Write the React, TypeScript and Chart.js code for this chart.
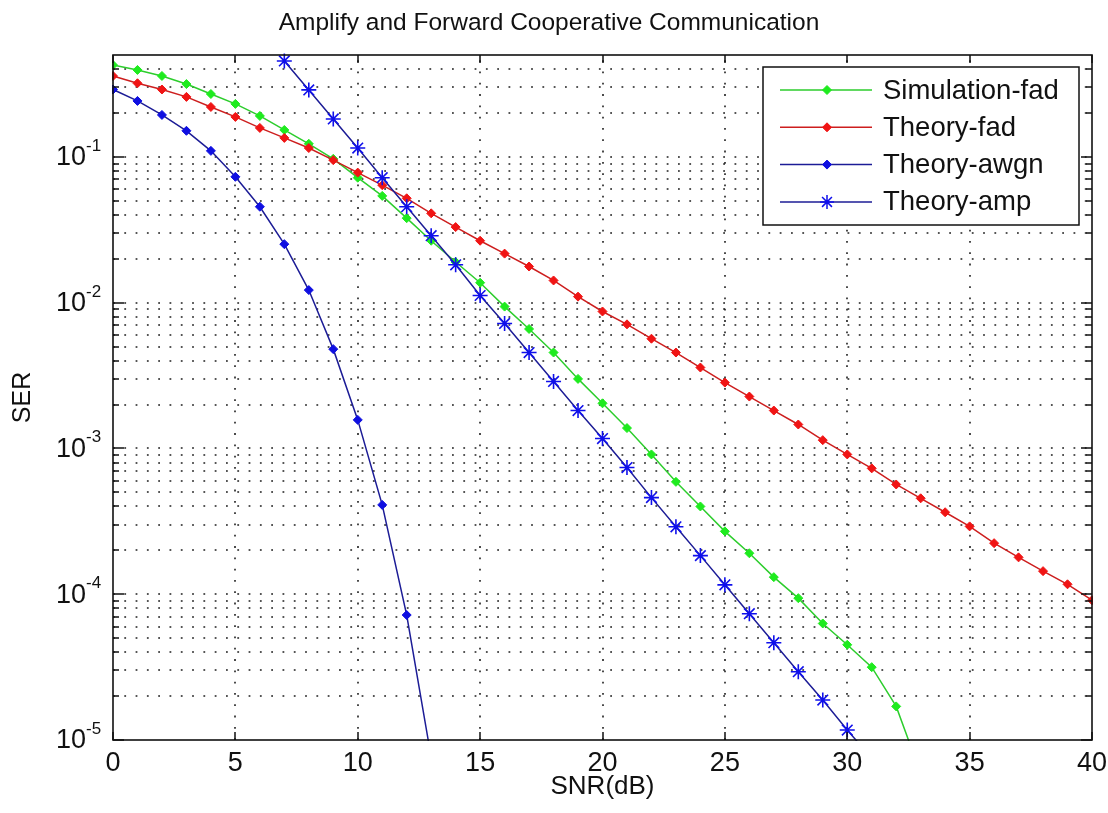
import React, { useEffect, useRef } from 'react';
import { Chart, registerables } from 'chart.js';

Chart.register(...registerables);

const FONT = '"Liberation Sans", Arial, Helvetica, sans-serif';

const chartTitle = 'Amplify and Forward Cooperative Communication';
const xAxisTitle = 'SNR(dB)';
const yAxisTitle = 'SER';

const snrDb = [0, 1, 2, 3, 4, 5, 6, 7, 8, 9, 10, 11, 12, 13, 14, 15, 16, 17, 18, 19, 20, 21, 22, 23, 24, 25, 26, 27, 28, 29, 30, 31, 32, 33, 34, 35, 36, 37, 38, 39, 40];

const simulationFad = [0.427, 0.395, 0.359, 0.316, 0.27, 0.231, 0.191, 0.153, 0.123, 0.097, 0.072, 0.054, 0.038, 0.0266, 0.019, 0.0137, 0.0094, 0.0066, 0.00455, 0.003, 0.00204, 0.00138, 0.00091, 0.00059, 0.0004, 0.00027, 0.000191, 0.000131, 9.4e-5, 6.3e-5, 4.5e-5, 3.16e-5, 1.7e-5, 5.9e-6, null, null, null, null, null, null, null];

const theoryFad = [0.359, 0.32, 0.29, 0.258, 0.22, 0.188, 0.158, 0.135, 0.115, 0.095, 0.078, 0.064, 0.052, 0.041, 0.033, 0.0266, 0.0217, 0.0177, 0.0142, 0.011, 0.0087, 0.0071, 0.00566, 0.00455, 0.00359, 0.00283, 0.00227, 0.00182, 0.00146, 0.00114, 0.00091, 0.00073, 0.000566, 0.000455, 0.000365, 0.000292, 0.000224, 0.000179, 0.000144, 0.000117, 9.1e-5];

const theoryAwgn = [0.29, 0.242, 0.194, 0.151, 0.11, 0.073, 0.0455, 0.0252, 0.0122, 0.0048, 0.00157, 0.00041, 7.2e-5, 7.6e-6, null, null, null, null, null, null, null, null, null, null, null, null, null, null, null, null, null, null, null, null, null, null, null, null, null, null, null];

const theoryAmp = [null, null, null, null, null, null, null, 0.455, 0.288, 0.182, 0.115, 0.072, 0.0455, 0.0288, 0.0182, 0.0112, 0.0072, 0.00455, 0.00288, 0.00182, 0.00117, 0.00074, 0.00046, 0.00029, 0.000184, 0.000116, 7.35e-5, 4.65e-5, 2.94e-5, 1.88e-5, 1.17e-5, 7.5e-6, null, null, null, null, null, null, null, null, null];

const seriesNames = ['Simulation-fad', 'Theory-fad', 'Theory-awgn', 'Theory-amp'];

const xTickValues = [0, 5, 10, 15, 20, 25, 30, 35, 40];
const yDecadeTicks = [1e-5, 1e-4, 1e-3, 1e-2, 1e-1];
const yDecadeExponents = ['-5', '-4', '-3', '-2', '-1'];
const yMinorMantissas = [2, 3, 4, 5, 6, 7, 8, 9];

const Y_MIN = 1e-5;
const Y_MAX = 0.5;

const styles = [
  { line: 'rgb(45,205,45)', marker: 'rgb(30,235,30)', shape: 'diamond' },
  { line: 'rgb(205,30,30)', marker: 'rgb(240,20,20)', shape: 'diamond' },
  { line: 'rgb(28,28,150)', marker: 'rgb(15,15,225)', shape: 'diamond' },
  { line: 'rgb(28,28,150)', marker: 'rgb(15,15,235)', shape: 'star' },
];

function minorValues(): number[] {
  const out: number[] = [];
  for (const d of yDecadeTicks) {
    for (const m of yMinorMantissas) {
      const v = m * d;
      if (v > Y_MIN && v < Y_MAX) out.push(v);
    }
  }
  return out;
}

function drawDiamond(ctx: CanvasRenderingContext2D, x: number, y: number, r: number, color: string) {
  ctx.beginPath();
  ctx.moveTo(x, y - r);
  ctx.lineTo(x + r, y);
  ctx.lineTo(x, y + r);
  ctx.lineTo(x - r, y);
  ctx.closePath();
  ctx.fillStyle = color;
  ctx.strokeStyle = color;
  ctx.lineWidth = 1;
  ctx.fill();
  ctx.stroke();
}

function drawStar(ctx: CanvasRenderingContext2D, x: number, y: number, r: number, color: string) {
  ctx.beginPath();
  ctx.moveTo(x - r, y); ctx.lineTo(x + r, y);
  ctx.moveTo(x, y - r); ctx.lineTo(x, y + r);
  const d = r * Math.SQRT1_2;
  ctx.moveTo(x - d, y - d); ctx.lineTo(x + d, y + d);
  ctx.moveTo(x - d, y + d); ctx.lineTo(x + d, y - d);
  ctx.strokeStyle = color;
  ctx.lineWidth = 1.5;
  ctx.stroke();
}

const matlabPlugin = {
  id: 'matlabAxes',
  beforeDatasetsDraw(chart: any) {
    const { ctx, chartArea: a, scales } = chart;
    const xs = scales.x;
    const ys = scales.y;
    ctx.save();
    ctx.strokeStyle = '#1e1e1e';
    ctx.lineWidth = 1.6;
    ctx.setLineDash([1.8, 9.5]);
    for (const v of xTickValues) {
      if (v <= xs.min || v >= xs.max) continue;
      const px = Math.round(xs.getPixelForValue(v));
      ctx.beginPath();
      ctx.moveTo(px, a.bottom);
      ctx.lineTo(px, a.top);
      ctx.stroke();
    }
    const gridVals = [...yDecadeTicks.filter((v) => v > Y_MIN && v < Y_MAX), ...minorValues()];
    for (const v of gridVals) {
      const py = Math.round(ys.getPixelForValue(v));
      ctx.beginPath();
      ctx.moveTo(a.left, py);
      ctx.lineTo(a.right, py);
      ctx.stroke();
    }
    ctx.restore();
  },
  afterDatasetsDraw(chart: any) {
    const { ctx, chartArea: a, scales } = chart;
    const xs = scales.x;
    const ys = scales.y;
    ctx.save();
    ctx.setLineDash([]);
    ctx.strokeStyle = '#111';
    ctx.lineWidth = 1.5;
    // x ticks (inward, bottom and top)
    for (const v of xTickValues) {
      const px = Math.round(xs.getPixelForValue(v));
      ctx.beginPath();
      ctx.moveTo(px, a.bottom); ctx.lineTo(px, a.bottom - 8);
      ctx.moveTo(px, a.top); ctx.lineTo(px, a.top + 8);
      ctx.stroke();
    }
    // y ticks
    for (const v of yDecadeTicks) {
      const py = Math.round(ys.getPixelForValue(v));
      ctx.beginPath();
      ctx.moveTo(a.left, py); ctx.lineTo(a.left + 11, py);
      ctx.moveTo(a.right, py); ctx.lineTo(a.right - 11, py);
      ctx.stroke();
    }
    for (const v of minorValues()) {
      const py = Math.round(ys.getPixelForValue(v));
      ctx.beginPath();
      ctx.moveTo(a.left, py); ctx.lineTo(a.left + 6, py);
      ctx.moveTo(a.right, py); ctx.lineTo(a.right - 6, py);
      ctx.stroke();
    }
    // box
    ctx.lineWidth = 1.6;
    ctx.strokeRect(a.left, a.top, a.right - a.left, a.bottom - a.top);

    // y tick labels 10^k
    ctx.fillStyle = '#111';
    yDecadeTicks.forEach((v, i) => {
      const py = ys.getPixelForValue(v);
      const xr = a.left - 27;
      ctx.font = `27px ${FONT}`;
      ctx.textAlign = 'right';
      ctx.textBaseline = 'middle';
      ctx.fillText('10', xr, py + 1);
      ctx.font = `17px ${FONT}`;
      ctx.textAlign = 'left';
      ctx.textBaseline = 'alphabetic';
      ctx.fillText(yDecadeExponents[i], xr, py - 6);
    });

    // legend
    const bw = 316;
    const bh = 158;
    const bx = a.right - 329;
    const by = a.top + 12;
    ctx.fillStyle = '#fff';
    ctx.fillRect(bx, by, bw, bh);
    ctx.strokeStyle = '#111';
    ctx.lineWidth = 1.5;
    ctx.strokeRect(bx, by, bw, bh);
    seriesNames.forEach((name, i) => {
      const ry = by + 23 + i * 37.3;
      const st = styles[i];
      ctx.beginPath();
      ctx.moveTo(bx + 17, ry);
      ctx.lineTo(bx + 109, ry);
      ctx.strokeStyle = st.line;
      ctx.lineWidth = 1.5;
      ctx.stroke();
      if (st.shape === 'star') drawStar(ctx, bx + 64, ry, 7, st.marker);
      else drawDiamond(ctx, bx + 64, ry, 4.5, st.marker);
      ctx.fillStyle = '#111';
      ctx.font = `27.5px ${FONT}`;
      ctx.textAlign = 'left';
      ctx.textBaseline = 'middle';
      ctx.fillText(name, bx + 120, ry + 1);
    });
    ctx.restore();
  },
};

function toPoints(values: (number | null)[]) {
  return snrDb
    .map((x, i) => ({ x, y: values[i] }))
    .filter((p) => p.y !== null && p.y !== undefined);
}

export default function App() {
  const ref = useRef<HTMLCanvasElement>(null);

  useEffect(() => {
    const canvas = ref.current;
    if (!canvas) return;
    const seriesValues = [simulationFad, theoryFad, theoryAwgn, theoryAmp];
    const datasets = seriesValues.map((vals, i) => {
      const st = styles[i];
      return {
        label: seriesNames[i],
        data: toPoints(vals),
        borderColor: st.line,
        backgroundColor: st.marker,
        borderWidth: 1.5,
        pointStyle: st.shape === 'star' ? 'star' : 'rectRot',
        pointRadius: st.shape === 'star' ? 7.5 : 4.5,
        pointBorderWidth: st.shape === 'star' ? 1.6 : 1,
        pointBorderColor: st.marker,
        pointBackgroundColor: st.marker,
        tension: 0,
        fill: false,
        order: 4 - i,
        clip: st.shape === 'star' ? { left: 1, top: false, right: 1, bottom: 1 } : 1,
      };
    });

    const chart = new Chart(canvas, {
      type: 'line',
      data: { datasets } as any,
      options: {
        responsive: false,
        animation: false,
        devicePixelRatio: 1,
        layout: { padding: { left: 6, right: 16, top: 0, bottom: 0 } },
        plugins: {
          legend: { display: false },
          tooltip: { enabled: false },
          title: {
            display: true,
            text: chartTitle,
            color: '#111',
            font: { family: FONT, size: 24.5, weight: 'normal' },
            padding: { top: 9, bottom: 16.6 },
          },
        },
        scales: {
          x: {
            type: 'linear',
            min: 0,
            max: 40,
            afterBuildTicks: (s: any) => {
              s.ticks = xTickValues.map((value) => ({ value }));
            },
            afterFit: (s: any) => {
              s.height = 73;
              s.paddingLeft = 0;
              s.paddingRight = 0;
            },
            ticks: {
              color: '#111',
              font: { family: FONT, size: 27 },
              padding: 7,
              maxRotation: 0,
              autoSkip: false,
              callback: (v: any) => String(v),
            },
            grid: { display: false, drawTicks: false },
            border: { display: false },
            title: {
              display: true,
              text: xAxisTitle,
              color: '#111',
              font: { family: FONT, size: 26 },
              padding: { top: 0, bottom: 11 },
            },
          },
          y: {
            type: 'logarithmic',
            min: Y_MIN,
            max: Y_MAX,
            afterFit: (s: any) => {
              s.width = 107;
              s.paddingTop = 0;
              s.paddingBottom = 0;
            },
            ticks: { display: false },
            grid: { display: false, drawTicks: false },
            border: { display: false },
            title: {
              display: true,
              text: yAxisTitle,
              color: '#111',
              font: { family: FONT, size: 25 },
              padding: { top: 2, bottom: 0 },
            },
          },
        },
      } as any,
      plugins: [matlabPlugin as any],
    });
    return () => chart.destroy();
  }, []);

  return (
    <div style={{ position: 'absolute', left: 0, top: 0, width: 1108, height: 813, background: '#fff' }}>
      <canvas ref={ref} width={1108} height={813} style={{ display: 'block', width: 1108, height: 813 }} />
    </div>
  );
}
